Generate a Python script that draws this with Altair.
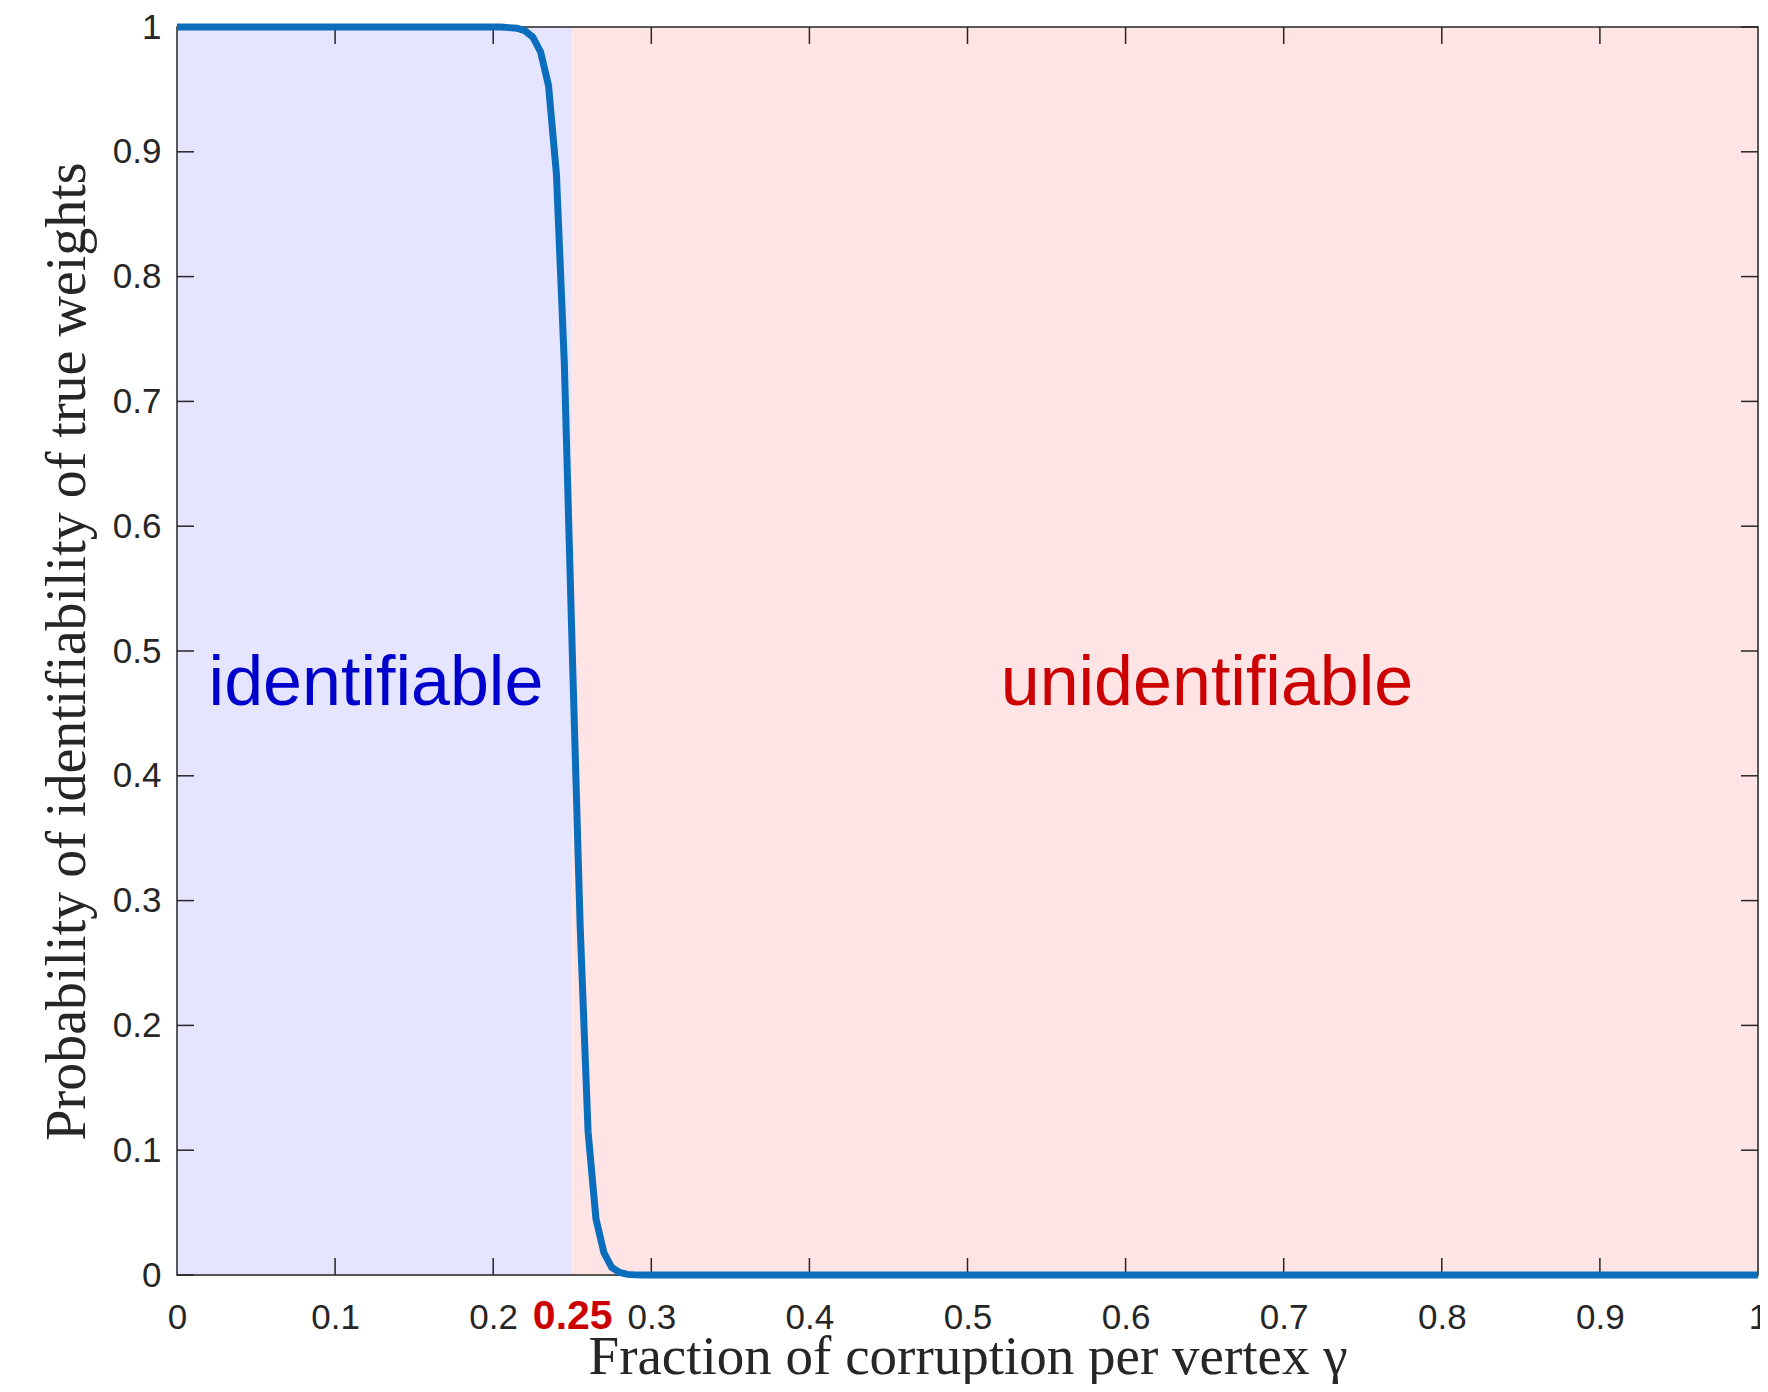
import altair as alt
import pandas as pd

# ---- data ----
gamma = [0.0, 0.2, 0.205, 0.21, 0.215, 0.22, 0.225, 0.23, 0.235, 0.24, 0.245,
         0.25, 0.255, 0.26, 0.265, 0.27, 0.275, 0.28, 0.285, 0.29, 0.295, 0.3, 1.0]
prob = [1.0, 1.0, 1.0, 0.9995, 0.999, 0.997, 0.992, 0.980, 0.953, 0.882, 0.73,
        0.50, 0.28, 0.115, 0.045, 0.018, 0.006, 0.002, 0.0005, 0.0001, 0.0, 0.0, 0.0]

region_name = ["identifiable", "unidentifiable"]
region_start = [0.0, 0.25]
region_end = [0.25, 1.0]

label_text = ["identifiable", "unidentifiable"]
label_x = [0.02, 0.521]
label_y = [0.457, 0.457]

x_label_values = [0, 0.1, 0.2, 0.25, 0.3, 0.4, 0.5, 0.6, 0.7, 0.8, 0.9, 1]
x_tick_values = [0.1, 0.2, 0.3, 0.4, 0.5, 0.6, 0.7, 0.8, 0.9]
y_tick_values = [0, 0.1, 0.2, 0.3, 0.4, 0.5, 0.6, 0.7, 0.8, 0.9, 1]

# ---- layout / style ----
W, H = 1581, 1248
TICK = 17
AX = "#262626"
xs = alt.Scale(domain=[0, 1], nice=False, zero=False)
ys = alt.Scale(domain=[0, 1], nice=False, zero=False)

x_axis = alt.Axis(
    values=x_label_values, format=".2~f", ticks=False, tickSize=0, domain=False, grid=False,
    labelOverlap=False, labelFlush=False, labelFont="Liberation Sans",
    labelFontSize={"condition": {"test": "datum.value == 0.25", "value": 41}, "value": 35},
    labelFontWeight={"condition": {"test": "datum.value == 0.25", "value": "bold"}, "value": "normal"},
    labelColor={"condition": {"test": "datum.value == 0.25", "value": "#CC0000"}, "value": AX},
    labelBaseline="alphabetic", labelPadding=53,
    title="Fraction of corruption per vertex γ", titleFont="Liberation Serif",
    titleFontSize=55, titleFontWeight="normal", titleColor=AX,
    titleBaseline="alphabetic", titleAlign="center", titleX=W / 2, titleY=98,
)
y_axis = alt.Axis(
    values=y_tick_values, format=".2~f", ticks=False, tickSize=0, domain=False, grid=False,
    labelOverlap=False, labelFlush=False, labelFont="Liberation Sans", labelFontSize=35,
    labelColor=AX, labelPadding=16, labelBaseline="middle",
    title="Probability of identifiability of true weights", titleFont="Liberation Serif",
    titleFontSize=56, titleFontWeight="normal", titleColor=AX, titleAngle=270,
    titleBaseline="alphabetic", titleAlign="center", titleX=-93, titleY=H / 2,
)

reg_df = pd.DataFrame({"name": region_name, "x0": region_start, "x1": region_end})
line_df = pd.DataFrame({"gamma": gamma, "prob": prob})
lab_df = pd.DataFrame({"text": label_text, "x": label_x, "y": label_y})
xt_df = pd.DataFrame({"xt": x_tick_values})
yt_df = pd.DataFrame({"yt": y_tick_values})

regions = alt.Chart(reg_df).mark_rect().encode(
    x=alt.X("x0:Q", scale=xs, axis=x_axis),
    x2="x1:Q",
    y=alt.value(0),
    y2=alt.value(H),
    color=alt.Color("name:N", scale=alt.Scale(domain=region_name, range=["#E5E5FF", "#FFE4E6"]), legend=None),
)

xt_bottom = alt.Chart(xt_df).mark_rule(color=AX, strokeWidth=1.5).encode(
    x=alt.X("xt:Q", scale=xs, axis=x_axis), y=alt.value(H), y2=alt.value(H - TICK))
xt_top = alt.Chart(xt_df).mark_rule(color=AX, strokeWidth=1.5).encode(
    x=alt.X("xt:Q", scale=xs, axis=x_axis), y=alt.value(0), y2=alt.value(TICK))
yt_left = alt.Chart(yt_df).mark_rule(color=AX, strokeWidth=1.5).encode(
    y=alt.Y("yt:Q", scale=ys, axis=y_axis), x=alt.value(0), x2=alt.value(TICK))
yt_right = alt.Chart(yt_df).mark_rule(color=AX, strokeWidth=1.5).encode(
    y=alt.Y("yt:Q", scale=ys, axis=y_axis), x=alt.value(W - TICK), x2=alt.value(W))

frame = alt.Chart(pd.DataFrame({"a": [0]})).mark_rect(
    fillOpacity=0, stroke=AX, strokeWidth=1.5).encode(
    x=alt.value(0), x2=alt.value(W), y=alt.value(0), y2=alt.value(H))

labels = alt.Chart(lab_df).mark_text(
    align="left", baseline="alphabetic", font="Liberation Sans", fontSize=70).encode(
    x=alt.X("x:Q", scale=xs, axis=x_axis),
    y=alt.Y("y:Q", scale=ys, axis=y_axis),
    text="text:N",
    color=alt.Color("text:N", scale=alt.Scale(domain=label_text, range=["#0000CC", "#CC0000"]), legend=None),
)

curve = alt.Chart(line_df).mark_line(color="#0A6EBD", strokeWidth=7).encode(
    x=alt.X("gamma:Q", scale=xs, axis=x_axis),
    y=alt.Y("prob:Q", scale=ys, axis=y_axis),
)

chart = alt.layer(
    regions, xt_bottom, xt_top, yt_left, yt_right, frame, labels, curve
).resolve_scale(color="independent").properties(
    width=W, height=H,
    padding={"left": 169, "top": 19, "right": 2, "bottom": 109},
    autosize=alt.AutoSizeParams(type="none"),
).configure_view(strokeWidth=0).configure(background="white")

chart.save("out.html", embed_options={"renderer": "svg", "actions": False})
